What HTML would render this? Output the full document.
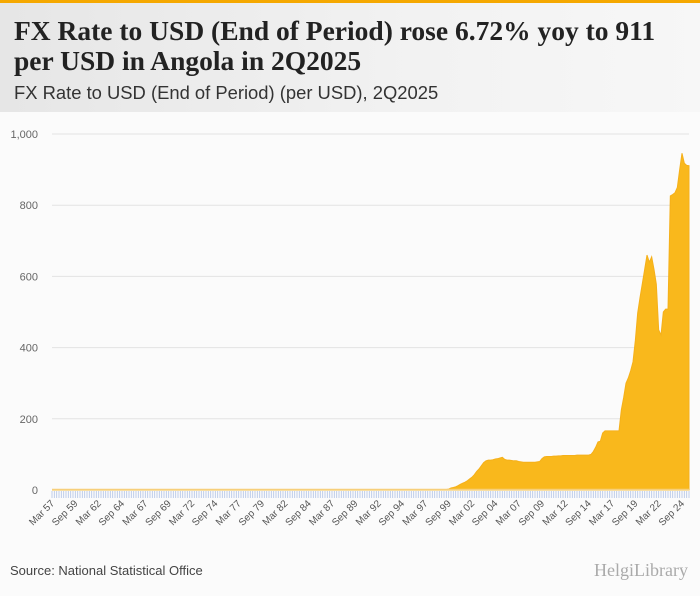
<!DOCTYPE html>
<html><head><meta charset="utf-8">
<style>
body{margin:0;width:700px;height:596px;background:#fbfbfb;font-family:"Liberation Sans",sans-serif;overflow:hidden;position:relative}
#hdr{position:absolute;left:0;top:0;width:700px;height:112px;background:linear-gradient(90deg,#e6e6e6 0%,#f2f2f2 60%,#f7f7f7 100%);border-top:3px solid #f5a800;box-sizing:border-box}
#title{position:absolute;left:14px;top:13px;font-family:"Liberation Serif",serif;font-weight:bold;font-size:27.5px;line-height:30px;color:#222}
#sub{position:absolute;left:14px;top:79px;font-size:18.4px;color:#333}
#src{position:absolute;left:10px;top:563px;font-size:13px;color:#444}
#logo{position:absolute;right:12px;top:560px;font-size:18px;color:#aaa;font-family:"Liberation Serif",serif}
</style></head><body>
<div id="hdr">
<div id="title">FX Rate to USD (End of Period) rose 6.72% yoy to 911<br>per USD in Angola in 2Q2025</div>
<div id="sub">FX Rate to USD (End of Period) (per USD), 2Q2025</div>
</div>
<svg id="chart" width="700" height="596" style="position:absolute;left:0;top:0"></svg>
<div id="src">Source: National Statistical Office</div>
<div id="logo">HelgiLibrary</div>
<script>
const startYear = 1957;
const preValues = Array(168).fill(0);
const recentValues = [
0.7,1.5,2.5,5.6, 7,9,12,16, 19,22,26,31, 36,43,52,59, 68,77,82,84,
84,85,87,88, 90,92,86,84, 84,83,82,82, 80,79,78,78, 78,78,78,78,
79,80,88,93, 94,94,94,95, 95,96,96,97, 97,97,97,97, 97,98,98,98,
98,98,98,100, 108,120,135,137, 160,166,166,166, 166,166,166,166,
225,260,300,315, 335,360,420,497, 540,580,620,660, 640,655,620,578,
450,435,500,508, 508,826,830,835, 850,900,946,918, 912,911];
const values = preValues.concat(recentValues);
const yTicks = [0,200,400,600,800,1000];
const yTickLabels = ["0","200","400","600","800","1,000"];

const svg = document.getElementById('chart');
const NS = 'http://www.w3.org/2000/svg';
const x0=52, x1=689, yBase=490, yTop=134, yMax=1000;
const n = values.length;
const X = i => x0 + i*(x1-x0)/(n-1);
const Y = v => yBase - v*(yBase-yTop)/yMax;
function mk(t,a){const e=document.createElementNS(NS,t);for(const k in a)e.setAttribute(k,a[k]);svg.appendChild(e);return e;}
function lbl(i){const m=i%4;const yr=startYear+Math.floor(i/4);return ["Mar","Jun","Sep","Dec"][m]+" "+String(yr%100).padStart(2,'0');}

yTicks.forEach((v,k)=>{
  if(v>0){const g=mk('line',{x1:x0,x2:x1,y1:Y(v),y2:Y(v),stroke:'#e3e3e3','stroke-width':1});
  
  }
  const t=mk('text',{x:38,y:Y(v)+4,'text-anchor':'end','font-size':11,fill:'#666','font-family':'Liberation Sans, sans-serif'});
  t.textContent=yTickLabels[k];
  
  
});

let d='M'+X(0)+','+yBase;
values.forEach((v,i)=>{d+=' L'+X(i).toFixed(2)+','+Y(v).toFixed(2);});
d+=' L'+X(n-1)+','+yBase+' Z';
const area=mk('path',{d:d,fill:'#f9b81c',stroke:'#f5b01a','stroke-width':1});


const base=mk('line',{x1:x0,x2:x1,y1:yBase-0.5,y2:yBase-0.5,stroke:'#f7cf7a','stroke-width':1.5});



for(let i=0;i<n;i++){
  const tk=mk('line',{x1:X(i),x2:X(i),y1:yBase+1,y2:yBase+8,stroke:'#b8c8e8','stroke-width':0.9});
  
  
  if(i%10===0){
    const xx=X(i)+3, yy=yBase+14;
    const t=mk('text',{x:xx,y:yy,'text-anchor':'end','font-size':10,fill:'#555','font-family':'Liberation Sans, sans-serif',transform:'rotate(-45 '+xx+' '+yy+')'});
    t.textContent=lbl(i);
    
    
  }
}
</script>
</body></html>
